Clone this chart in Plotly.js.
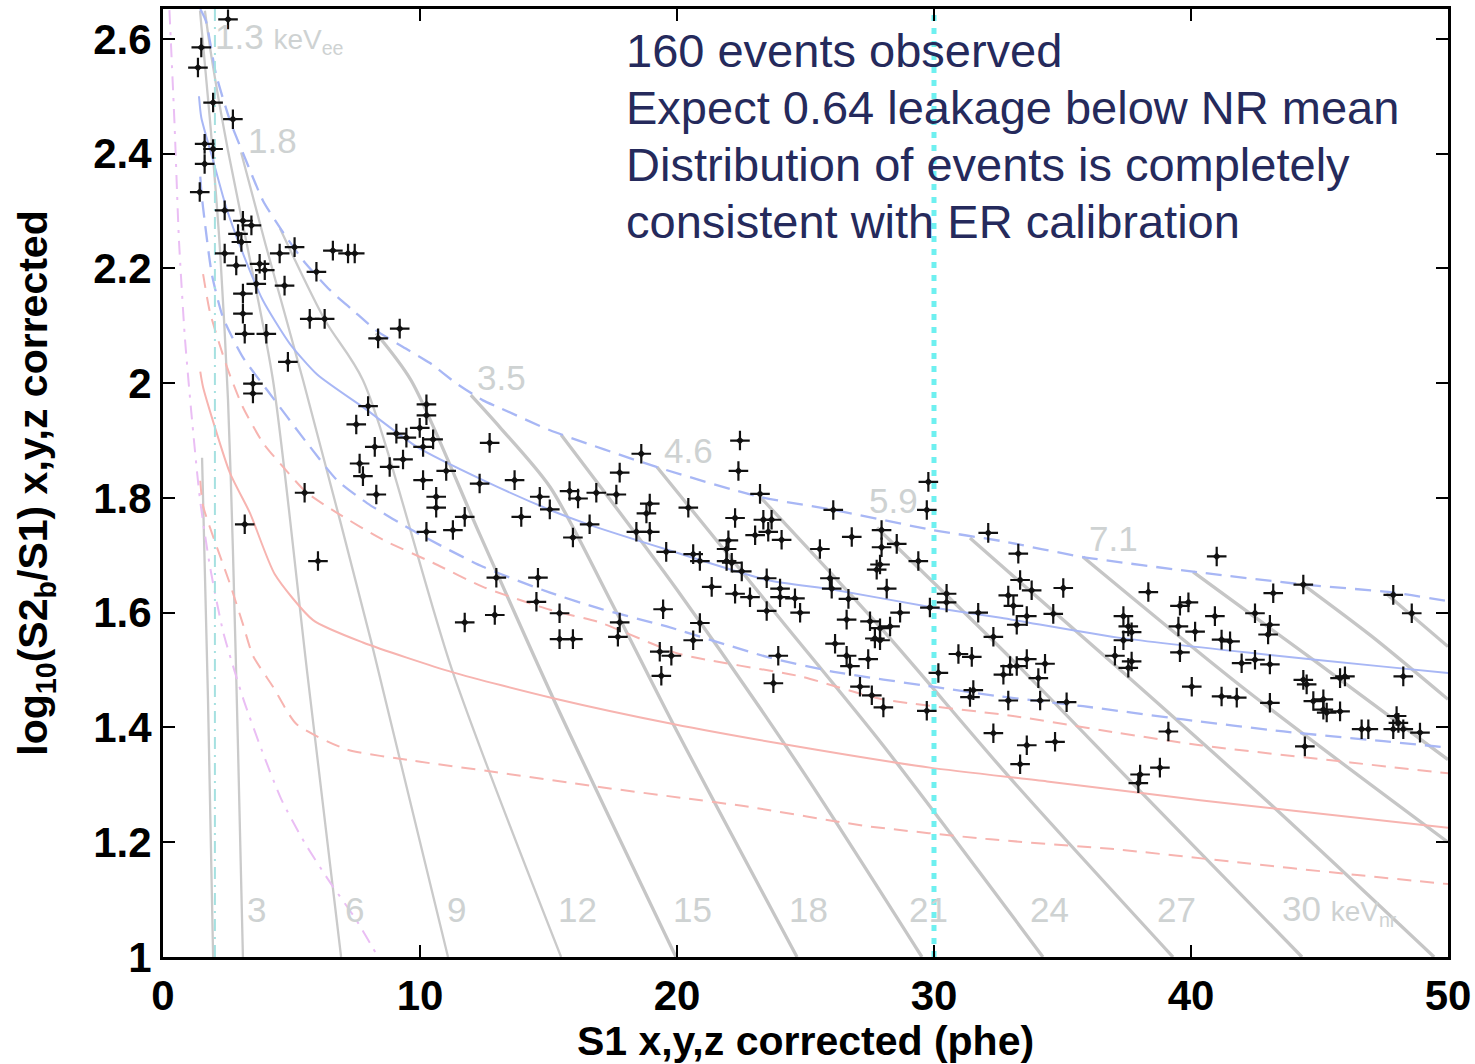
<!DOCTYPE html>
<html><head><meta charset="utf-8">
<script src="https://cdn.plot.ly/plotly-3.0.1.min.js"></script>
<style>html,body{margin:0;padding:0;background:#fff}#chart{width:1475px;height:1064px}</style>
</head><body><div id="chart"></div>
<script>
// ---------- data ----------
const xTicks = [0, 10, 20, 30, 40, 50];
const xTickText = ['0', '10', '20', '30', '40', '50'];
const yTicks = [1, 1.2, 1.4, 1.6, 1.8, 2, 2.2, 2.4, 2.6];
const yTickText = ['1', '1.2', '1.4', '1.6', '1.8', '2', '2.2', '2.4', '2.6'];

// events (S1, log10(S2b/S1))
const evX = [
 2.53,1.49,1.36,1.95,2.72,1.62,1.95,1.62,1.43,2.40,3.11,3.44,2.92,3.05,5.12,6.61,7.20,7.46,2.40,4.54,2.85,3.76,3.96,5.97,3.63,4.73,3.11,3.11,5.71,6.29,3.18,4.02,8.37,9.21,4.86,3.50,3.50,
 7.98,10.25,10.25,7.52,9.99,9.08,9.47,10.51,8.24,10.12,12.71,9.34,8.82,7.65,7.78,11.02,10.12,12.32,13.68,8.30,10.63,14.66,5.51,10.63,15.05,13.94,11.74,3.18,10.25,11.28,15.95,6.03,12.97,14.59,14.53,12.91,11.74,15.43,15.43,15.95,17.77,17.70,19.33,19.78,19.39,19.46,19.58,18.61,17.77,16.86,15.82,16.15,17.64,18.94,18.81,18.42,18.94,16.60,
 22.45,22.39,29.78,29.72,20.44,23.23,26.08,22.26,23.36,23.68,23.55,23.04,24.07,22.00,26.80,27.96,27.96,28.55,25.56,21.93,20.63,27.90,27.77,29.39,21.93,22.13,20.89,22.52,23.49,25.95,26.02,21.35,24.01,28.16,30.49,30.49,22.26,22.84,24.01,24.59,26.67,29.84,31.72,32.89,33.09,33.35,33.80,33.61,33.22,34.64,35.03,33.28,32.11,23.49,24.79,27.51,27.90,28.29,27.70,27.90,26.60,28.68,20.89,20.63,26.15,26.60,26.73,27.44,23.94,23.75,27.12,27.58,28.03,29.72,30.17,30.95,31.47,32.31,32.96,33.22,33.61,32.70,34.32,34.06,31.53,31.40,32.89,34.13,35.16,32.31,33.61,34.71,33.35,38.02,37.95,38.79,39.12,37.37,37.56,37.37,37.04,38.34,39.57,39.90,39.51,40.16,39.57,40.03,
 41.00,43.20,44.37,47.87,48.59,37.69,40.93,41.19,41.52,42.49,43.07,43.00,37.69,37.56,41.97,42.49,43.07,44.37,44.50,45.80,45.99,48.26,41.19,41.78,43.07,44.76,45.15,45.15,45.28,45.80,46.64,46.90,48.00,48.07,47.87,48.26,48.91,44.43
];
const evY = [
 2.634,2.585,2.550,2.489,2.460,2.417,2.408,2.382,2.333,2.301,2.283,2.275,2.260,2.246,2.237,2.231,2.226,2.226,2.226,2.226,2.205,2.208,2.197,2.194,2.173,2.170,2.156,2.121,2.112,2.112,2.086,2.086,2.078,2.095,2.037,1.999,1.982,
 1.960,1.963,1.944,1.928,1.922,1.912,1.905,1.902,1.889,1.889,1.896,1.867,1.854,1.860,1.838,1.847,1.831,1.825,1.831,1.806,1.802,1.802,1.809,1.783,1.780,1.767,1.767,1.754,1.741,1.744,1.731,1.690,1.661,1.661,1.619,1.596,1.583,1.599,1.554,1.554,1.583,1.558,1.532,1.525,1.490,1.606,1.706,1.877,1.844,1.809,1.812,1.799,1.806,1.790,1.773,1.741,1.741,1.754,
 1.900,1.847,1.828,1.779,1.783,1.807,1.779,1.765,1.762,1.762,1.741,1.735,1.727,1.726,1.732,1.744,1.714,1.720,1.711,1.711,1.702,1.684,1.675,1.690,1.690,1.687,1.690,1.672,1.660,1.660,1.642,1.645,1.642,1.642,1.633,1.618,1.633,1.627,1.627,1.625,1.624,1.609,1.600,1.630,1.612,1.657,1.639,1.594,1.579,1.598,1.643,1.703,1.739,1.603,1.600,1.585,1.573,1.576,1.555,1.552,1.588,1.600,1.582,1.552,1.546,1.525,1.507,1.519,1.525,1.477,1.471,1.456,1.435,1.429,1.495,1.528,1.523,1.558,1.507,1.507,1.519,1.492,1.511,1.486,1.465,1.453,1.447,1.447,1.444,1.390,1.369,1.375,1.336,1.318,1.303,1.330,1.393,1.594,1.576,1.552,1.525,1.636,1.612,1.618,1.576,1.567,1.531,1.471,
 1.698,1.634,1.649,1.631,1.599,1.566,1.594,1.553,1.550,1.599,1.579,1.562,1.515,1.504,1.512,1.518,1.510,1.483,1.475,1.486,1.489,1.489,1.454,1.452,1.443,1.446,1.449,1.431,1.426,1.428,1.397,1.397,1.420,1.408,1.397,1.397,1.391,1.367
];

// ER band (blue): mean and +/- lines
const erMeanX = [1.40,1.49,1.95,2.46,3.11,3.89,4.93,6.00,7.94,9.88,12.45,15.06,16.6,19.6,23.5,26.1,29.96,32.6,37.1,42.3,47.5,50];
const erMeanY = [2.50,2.463,2.388,2.306,2.226,2.144,2.069,2.015,1.953,1.889,1.831,1.779,1.753,1.710,1.657,1.640,1.609,1.591,1.557,1.530,1.506,1.495];
const erHiX = [1.45,1.67,2.06,2.61,3.23,3.89,4.55,5.45,6.50,7.39,8.29,9.34,10.39,11.4,12.45,13.1,15.06,19.2,23.2,26.1,29.96,32.6,35.8,40.35,44.4,47.9,50];
const erHiY = [2.652,2.631,2.539,2.457,2.388,2.318,2.271,2.214,2.162,2.127,2.092,2.063,2.035,2.000,1.970,1.957,1.918,1.854,1.802,1.779,1.744,1.725,1.697,1.670,1.649,1.635,1.620];
const erLoX = [1.45,1.50,1.62,1.90,2.33,3.11,4.05,5.60,6.77,7.94,9.88,12.45,15.06,17.0,19.6,23.5,26.1,29.96,32.6,35.8,39.7,43.6,47.5,50];
const erLoY = [2.36,2.33,2.283,2.19,2.115,2.045,1.988,1.896,1.831,1.791,1.739,1.680,1.635,1.607,1.576,1.523,1.497,1.471,1.454,1.437,1.414,1.393,1.376,1.365];

// NR band (red): mean and +/- lines
const nrMeanX = [1.45,1.56,2.60,3.39,4.35,5.84,7.78,11.28,15.18,19.84,24.0,29.84,34.4,40.35,44.0,50];
const nrMeanY = [2.02,1.993,1.844,1.773,1.667,1.587,1.548,1.496,1.451,1.406,1.372,1.330,1.306,1.273,1.255,1.225];
const nrHiX = [1.56,1.83,2.49,3.11,3.89,4.67,5.60,6.77,8.56,10.5,12.45,15.06,17.0,20.1,24.8,27.9,33.07,37.1,40.35,46.2,50];
const nrHiY = [2.19,2.123,2.028,1.958,1.896,1.854,1.809,1.774,1.727,1.687,1.645,1.605,1.583,1.528,1.489,1.450,1.420,1.391,1.369,1.339,1.320];
const nrLoX = [1.45,1.56,2.60,3.11,3.50,4.28,5.19,7.13,9.73,12.97,16.86,20.23,22.6,27.4,32.2,37.0,41.8,46.0,50];
const nrLoY = [1.83,1.786,1.651,1.580,1.525,1.471,1.406,1.362,1.342,1.322,1.297,1.277,1.263,1.228,1.205,1.188,1.165,1.145,1.127];

// magenta dash-dot curve
const pinkX = [0.25,0.45,0.62,0.85,1.10,1.44,1.83,2.35,3.13,3.83,4.60,5.50,6.50,7.50,8.37];
const pinkY = [2.65,2.45,2.25,2.08,1.95,1.797,1.68,1.565,1.449,1.362,1.275,1.20,1.13,1.066,1.0];

// vertical markers
const s1Threshold = 2.02;
const s1Cut = 30;

// grey constant-energy contours
const contourX = [
 [1.52,1.75,1.95],
 [1.44,1.83,2.22,2.53,2.72,2.92,3.11],
 [1.63,1.91,2.53,3.39,4.28,5.60,6.93],
 [3.04,4.00,5.45,8.10,11.09],
 [4.55,6.30,7.78,11.28,15.49],
 [8.29,9.65,12.33,15.18,19.96],
 [11.98,13.11,15.06,17.39,19.84,24.67],
 [15.49,20.0,24.8,29.53],
 [19.22,24.0,28.0,34.24],
 [23.23,28.0,33.0,39.30],
 [27.78,33.0,38.0,44.32],
 [31.40,37.0,43.0,49.46],
 [35.80,42.0,50.0],
 [40.08,45.0,50.0],
 [44.36,47.0,50.0],
 [47.60,50.0]
];
const contourY = [
 [1.87,1.45,1.0],
 [2.649,2.457,2.231,1.97,1.71,1.362,1.0],
 [2.649,2.562,2.405,2.214,2.005,1.50,1.0],
 [2.402,2.24,2.005,1.55,1.0],
 [2.27,2.11,2.005,1.496,1.0],
 [2.087,2.005,1.736,1.451,1.0],
 [1.979,1.923,1.819,1.623,1.407,1.0],
 [1.910,1.64,1.33,1.0],
 [1.854,1.59,1.37,1.0],
 [1.802,1.57,1.31,1.0],
 [1.748,1.52,1.29,1.0],
 [1.730,1.51,1.27,1.0],
 [1.697,1.47,1.20],
 [1.671,1.51,1.344],
 [1.649,1.56,1.449],
 [1.633,1.541]
];

// contour labels
const topLabelText = ['1.3 <span style="font-size:28px">keV<sub>ee</sub></span>', '1.8', '3.5', '4.6', '5.9', '7.1'];
const topLabelX = [1.95, 3.23, 12.14, 19.42, 27.39, 35.95];
const topLabelY = [2.602, 2.423, 2.009, 1.882, 1.795, 1.730];
const botLabelText = ['3', '6', '9', '12', '15', '18', '21', '24', '27', '30 <span style="font-size:28px">keV<sub>nr</sub></span>'];
const botLabelX = [3.19, 7.0, 10.97, 15.3, 19.77, 24.28, 28.95, 33.66, 38.6, 43.46];
const botLabelY = 1.082;

const noteLines = ['160 events observed', 'Expect 0.64 leakage below NR mean', 'Distribution of events is completely', 'consistent with ER calibration'];
const noteX = 17.95;
const noteY = [2.579, 2.480, 2.381, 2.282];

// ---------- build ----------
const FONT = 'Liberation Sans, Arial, Helvetica, sans-serif';
const traces = [];
contourX.forEach((xs, i) => {
  traces.push({x: xs, y: contourY[i], mode: 'lines', type: 'scatter', hoverinfo: 'skip',
    line: {color: i < 5 ? 'rgb(202,202,202)' : 'rgb(198,198,198)', width: i < 5 ? 2.3 : 3.3, shape: 'spline', smoothing: 0.8}});
});
function band(xs, ys, color, dash, width) {
  traces.push({x: xs, y: ys, mode: 'lines', type: 'scatter', hoverinfo: 'skip',
    line: {color: color, dash: dash, width: width, shape: 'spline', smoothing: 0.6}});
}
const BLUE = 'rgb(168,183,245)', RED = 'rgb(247,180,176)';
band(pinkX, pinkY, 'rgb(234,190,244)', '14px,8px,3px,8px', 2);
band(nrLoX, nrLoY, RED, '14px,9px', 2);
band(nrHiX, nrHiY, RED, '14px,9px', 2);
band(nrMeanX, nrMeanY, RED, 'solid', 2);
band(erLoX, erLoY, BLUE, '16px,9px', 2.3);
band(erHiX, erHiY, BLUE, '16px,9px', 2.3);
band(erMeanX, erMeanY, BLUE, 'solid', 2);
traces.push({x: [s1Threshold, s1Threshold], y: [1, 2.652], mode: 'lines', type: 'scatter', hoverinfo: 'skip',
  line: {color: 'rgb(165,225,225)', width: 2, dash: '12px,6px,2px,6px'}});
traces.push({x: [s1Cut, s1Cut], y: [1, 2.652], mode: 'lines', type: 'scatter', hoverinfo: 'skip',
  line: {color: 'rgb(110,240,240)', width: 5, dash: '6px,7px'}});
// event markers: thin cross with small diamond core
traces.push({x: evX, y: evY, mode: 'markers', type: 'scatter', hoverinfo: 'skip',
  marker: {symbol: 'cross-thin', size: 14, color: '#111', line: {color: '#111', width: 2.2}}});
traces.push({x: evX, y: evY, mode: 'markers', type: 'scatter',
  marker: {symbol: 'diamond', size: 6, color: '#111', line: {width: 0}}});

const annotations = [];
topLabelText.forEach((t, i) => annotations.push({x: topLabelX[i], y: topLabelY[i], xref: 'x', yref: 'y', text: t,
  showarrow: false, xanchor: 'left', yanchor: 'middle', font: {family: FONT, size: 35, color: 'rgb(206,210,210)'}}));
botLabelText.forEach((t, i) => annotations.push({x: botLabelX[i], y: botLabelY, xref: 'x', yref: 'y', text: t,
  showarrow: false, xanchor: 'left', yanchor: 'middle', font: {family: FONT, size: 35, color: 'rgb(206,210,210)'}}));
noteLines.forEach((t, i) => annotations.push({x: noteX, y: noteY[i], xref: 'x', yref: 'y', text: t,
  showarrow: false, xanchor: 'left', yanchor: 'middle', font: {family: FONT, size: 47, color: '#252a5c'}}));

const axisCommon = {ticks: 'inside', ticklen: 12, tickwidth: 2, tickcolor: '#000', showline: true, linecolor: '#000',
  linewidth: 3, mirror: 'allticks', showgrid: false, zeroline: false, automargin: false,
  tickfont: {family: FONT, size: 42, color: '#000', weight: 'bold'}};

const layout = {
  width: 1475, height: 1064, showlegend: false,
  paper_bgcolor: '#fff', plot_bgcolor: '#fff',
  margin: {l: 163, r: 27, t: 9, b: 107},
  xaxis: Object.assign({}, axisCommon, {range: [0, 50], tickvals: xTicks, ticktext: xTickText,
    title: {text: 'S1 x,y,z corrected (phe)', font: {family: FONT, size: 41, color: '#000', weight: 'bold'}, standoff: 6}}),
  yaxis: Object.assign({}, axisCommon, {range: [1, 2.652], tickvals: yTicks, ticktext: yTickText,
    title: {text: 'log<sub>10</sub>(S2<sub>b</sub>/S1) x,y,z corrected', font: {family: FONT, size: 41, color: '#000', weight: 'bold'}, standoff: 33}}),
  annotations: annotations
};
Plotly.newPlot('chart', traces, layout, {staticPlot: true});
</script></body></html>
